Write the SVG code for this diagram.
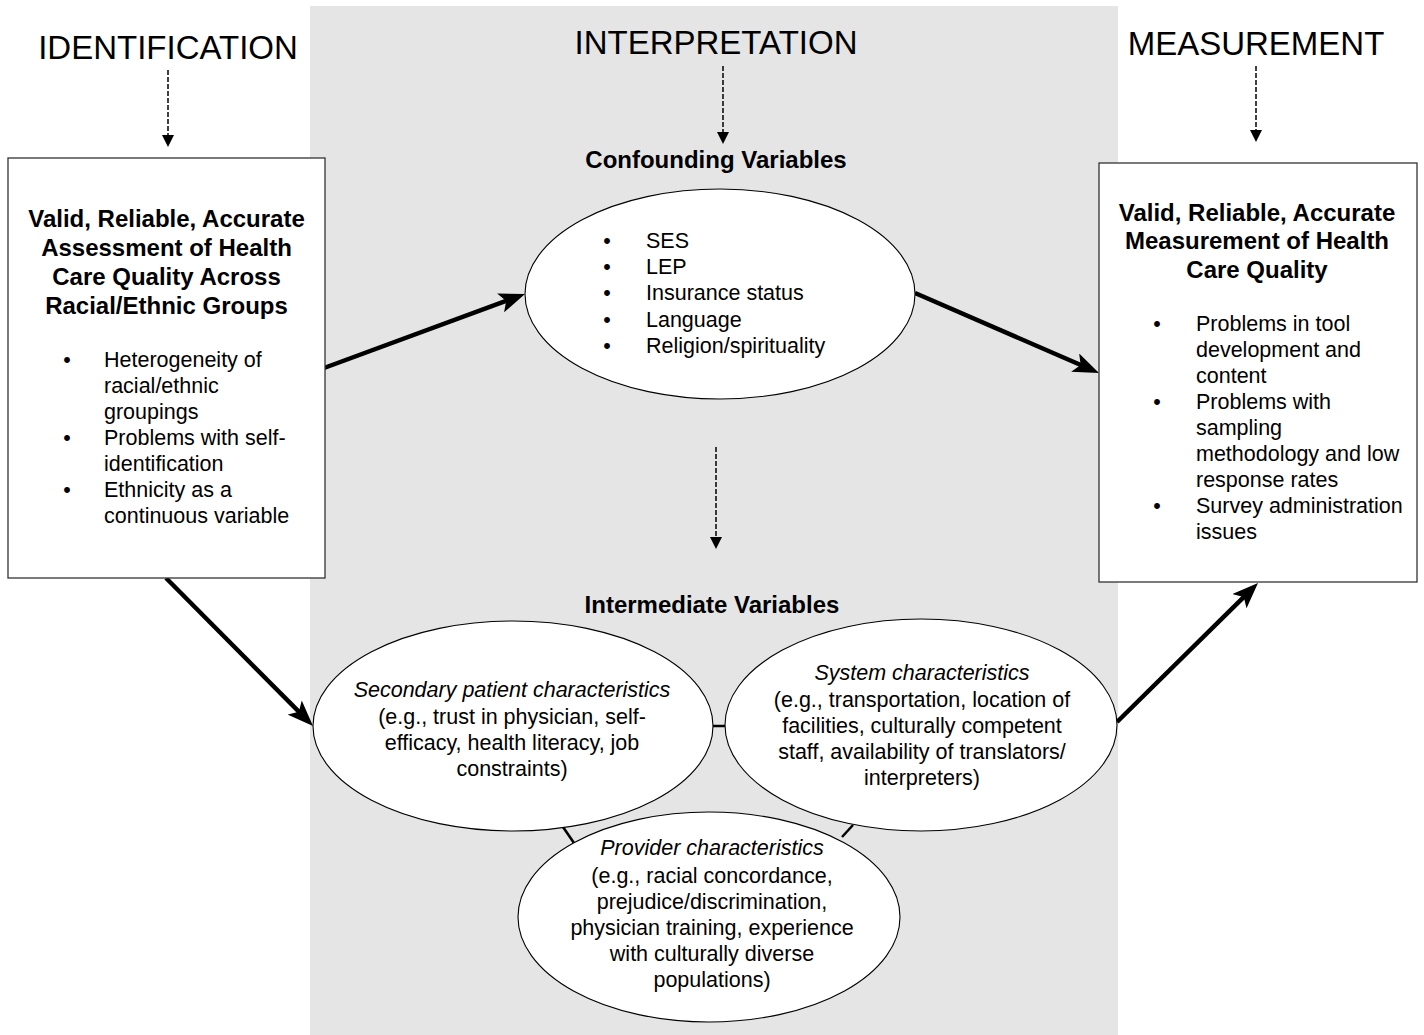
<svg xmlns="http://www.w3.org/2000/svg" width="1424" height="1035" viewBox="0 0 1424 1035">
<style>
text{font-family:"Liberation Sans",Arial,sans-serif;fill:#000}
.h{font-size:33px;text-anchor:middle}
.b{font-size:24px;font-weight:bold;text-anchor:middle}
.t{font-size:21.5px}
.c{font-size:21.5px;text-anchor:middle}
.i{font-style:italic}
.m{text-anchor:middle}
.box{fill:#fff;stroke:#333;stroke-width:1.3}
.ell{fill:#fff;stroke:#000;stroke-width:1.1}
.thick{stroke:#000;stroke-width:4.5;fill:none;marker-end:url(#big)}
.dash{stroke:#000;stroke-width:1.5;stroke-dasharray:5 2;fill:none;marker-end:url(#small)}
.link{stroke:#000;stroke-width:2.5;fill:none}
</style>
<defs>
<marker id="big" markerUnits="userSpaceOnUse" viewBox="0 0 26 20" refX="8" refY="10" markerWidth="26" markerHeight="20" orient="auto">
<path d="M0,0 L26,10 L0,20 L6,10 z" fill="#000"/>
</marker>
<marker id="small" markerUnits="userSpaceOnUse" viewBox="0 0 12 12" refX="5" refY="6" markerWidth="12" markerHeight="12" orient="auto">
<path d="M0,0 L12,6 L0,12 z" fill="#000"/>
</marker>
</defs>
<rect x="0" y="0" width="1424" height="1035" fill="#fff"/>
<rect x="310" y="6" width="808" height="1029" fill="#e5e5e5"/>

<g id="headers">
<text class="h" x="168" y="59">IDENTIFICATION</text>
<text class="h" x="716" y="54">INTERPRETATION</text>
<text class="h" x="1256" y="55">MEASUREMENT</text>
<text class="b" x="716" y="168">Confounding Variables</text>
<text class="b" x="712" y="613">Intermediate Variables</text>
</g>

<g id="connectors">
<line class="dash" x1="168" y1="70" x2="168" y2="140"/>
<line class="dash" x1="723" y1="66" x2="723" y2="137"/>
<line class="dash" x1="1256" y1="66" x2="1256" y2="135"/>
<line class="dash" x1="716" y1="447" x2="716" y2="542"/>
<line class="thick" x1="324" y1="368" x2="508.1" y2="300.2"/>
<line class="thick" x1="915" y1="293" x2="1082.5" y2="365.8"/>
<line class="thick" x1="166" y1="578" x2="300.3" y2="713.2"/>
<line class="thick" x1="1117" y1="722" x2="1245.2" y2="595.6"/>
<line class="link" x1="712" y1="726" x2="726" y2="726"/>
<line class="link" x1="563" y1="827" x2="574" y2="843"/>
<line class="link" x1="853" y1="825" x2="842" y2="837"/>
</g>

<g id="identification-box">
<rect class="box" x="8" y="158" width="317" height="420"/>
<text class="b" x="166.5" y="227">Valid, Reliable, Accurate</text>
<text class="b" x="166.5" y="256">Assessment of Health</text>
<text class="b" x="166.5" y="285">Care Quality Across</text>
<text class="b" x="166.5" y="314">Racial/Ethnic Groups</text>
<text class="t m" x="67" y="367">•</text>
<text class="t" x="104" y="367">Heterogeneity of</text>
<text class="t" x="104" y="393">racial/ethnic</text>
<text class="t" x="104" y="419">groupings</text>
<text class="t m" x="67" y="445">•</text>
<text class="t" x="104" y="445">Problems with self-</text>
<text class="t" x="104" y="471">identification</text>
<text class="t m" x="67" y="497">•</text>
<text class="t" x="104" y="497">Ethnicity as a</text>
<text class="t" x="104" y="523">continuous variable</text>
</g>

<g id="measurement-box">
<rect class="box" x="1099" y="163" width="318" height="419"/>
<text class="b" x="1257" y="221">Valid, Reliable, Accurate</text>
<text class="b" x="1257" y="249">Measurement of Health</text>
<text class="b" x="1257" y="278">Care Quality</text>
<text class="t m" x="1157" y="331">•</text>
<text class="t" x="1196" y="331">Problems in tool</text>
<text class="t" x="1196" y="357">development and</text>
<text class="t" x="1196" y="383">content</text>
<text class="t m" x="1157" y="409">•</text>
<text class="t" x="1196" y="409">Problems with</text>
<text class="t" x="1196" y="435">sampling</text>
<text class="t" x="1196" y="461">methodology and low</text>
<text class="t" x="1196" y="487">response rates</text>
<text class="t m" x="1157" y="513">•</text>
<text class="t" x="1196" y="513">Survey administration</text>
<text class="t" x="1196" y="539">issues</text>
</g>

<g id="confounding">
<ellipse class="ell" cx="720" cy="294" rx="195" ry="105"/>
<text class="t m" x="607" y="248">•</text>
<text class="t" x="646" y="248">SES</text>
<text class="t m" x="607" y="274">•</text>
<text class="t" x="646" y="274">LEP</text>
<text class="t m" x="607" y="300">•</text>
<text class="t" x="646" y="300">Insurance status</text>
<text class="t m" x="607" y="327">•</text>
<text class="t" x="646" y="327">Language</text>
<text class="t m" x="607" y="353">•</text>
<text class="t" x="646" y="353">Religion/spirituality</text>
</g>

<g id="secondary">
<ellipse class="ell" cx="513" cy="726" rx="200" ry="105"/>
<text class="c i" x="512" y="697">Secondary patient characteristics</text>
<text class="c" x="512" y="724">(e.g., trust in physician, self-</text>
<text class="c" x="512" y="750">efficacy, health literacy, job</text>
<text class="c" x="512" y="776">constraints)</text>
</g>

<g id="system">
<ellipse class="ell" cx="921" cy="725" rx="196" ry="106"/>
<text class="c i" x="922" y="680">System characteristics</text>
<text class="c" x="922" y="707">(e.g., transportation, location of</text>
<text class="c" x="922" y="733">facilities, culturally competent</text>
<text class="c" x="922" y="759">staff, availability of translators/</text>
<text class="c" x="922" y="785">interpreters)</text>
</g>

<g id="provider">
<ellipse class="ell" cx="709" cy="917" rx="191" ry="105"/>
<text class="c i" x="712" y="855">Provider characteristics</text>
<text class="c" x="712" y="883">(e.g., racial concordance,</text>
<text class="c" x="712" y="909">prejudice/discrimination,</text>
<text class="c" x="712" y="935">physician training, experience</text>
<text class="c" x="712" y="961">with culturally diverse</text>
<text class="c" x="712" y="987">populations)</text>
</g>
</svg>
